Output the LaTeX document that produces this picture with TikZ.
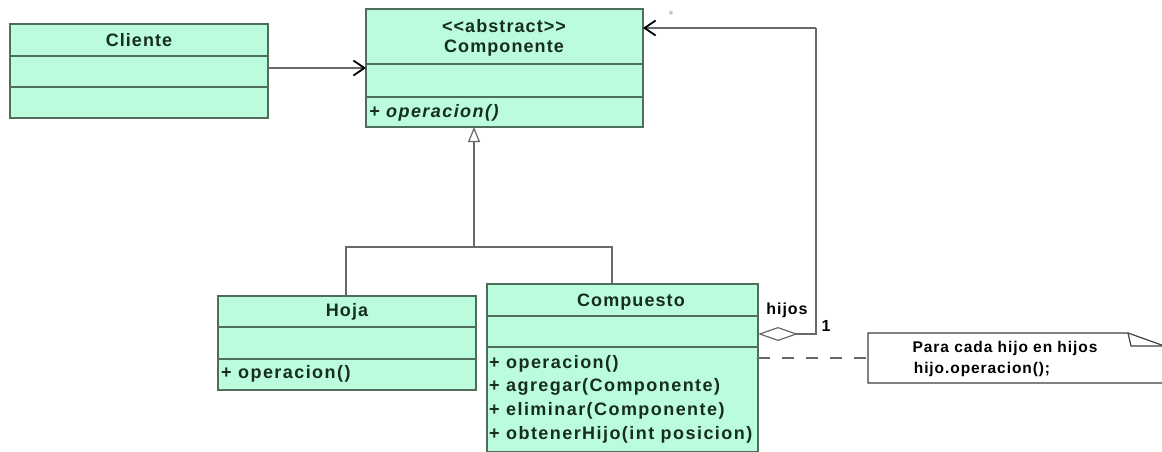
\documentclass[tikz,border=0pt]{standalone}
\usepackage{fontspec}
\newfontfamily\umlfont{Liberation Sans}[LetterSpace=6]
\newfontfamily\memberfont{Liberation Sans}[LetterSpace=8]
\usetikzlibrary{arrows.meta}
\definecolor{umlfill}{RGB}{187,252,220}
\definecolor{umlline}{RGB}{80,108,92}
\definecolor{umltext}{RGB}{22,45,32}
\definecolor{connc}{RGB}{105,105,105}
\tikzset{
  classbox/.style={draw=umlline, fill=umlfill, line width=1.3pt, inner sep=0pt, outer sep=0pt, rectangle, anchor=north west},
  divider/.style={draw=umlline, line width=1.2pt},
  cname/.style={text=umltext, font=\umlfont\fontsize{18}{20}\selectfont\bfseries, inner sep=0pt},
  member/.style={text=umltext, font=\memberfont\fontsize{18}{20}\selectfont\bfseries, inner sep=0pt, anchor=west},
  connline/.style={draw=connc, line width=1.3pt},
  barb/.style={-{Straight Barb[length=11pt,width=15pt,line width=1.8pt,color=black]}},
  lbl/.style={text=black, font=\umlfont\fontsize{16}{18}\selectfont\bfseries, inner sep=0pt},
  notetext/.style={text=black, font=\umlfont\fontsize{15.5}{18}\selectfont\bfseries, inner sep=0pt},
}
\begin{document}
\begin{tikzpicture}[x=1pt,y=-1pt]
\useasboundingbox (0,0) rectangle (1162,451);
\fill[white] (0,0) rectangle (1162,451);
\clip (0,0) rectangle (1162,451);

% classes
\node[classbox, minimum width=258pt, minimum height=94pt] (cliente) at (10,24) {};
\node[classbox, minimum width=277pt, minimum height=118pt] (componente) at (366,9) {};
\node[classbox, minimum width=258pt, minimum height=94pt] (hoja) at (218,296) {};
\node[classbox, minimum width=271pt, minimum height=168pt] (compuesto) at (487,284) {};

% dividers
\draw[divider] (cliente.west |- 0,56) -- (cliente.east |- 0,56);
\draw[divider] (cliente.west |- 0,87) -- (cliente.east |- 0,87);
\draw[divider] (componente.west |- 0,64) -- (componente.east |- 0,64);
\draw[divider] (componente.west |- 0,97) -- (componente.east |- 0,97);
\draw[divider] (hoja.west |- 0,327) -- (hoja.east |- 0,327);
\draw[divider] (hoja.west |- 0,359) -- (hoja.east |- 0,359);
\draw[divider] (compuesto.west |- 0,316) -- (compuesto.east |- 0,316);
\draw[divider] (compuesto.west |- 0,347) -- (compuesto.east |- 0,347);

% texts
\node[cname] (tcliente) at (139,40) {Cliente};
\node[cname] (tabs) at (504,26) {<<abstract>>};
\node[cname] (tcomp) at (504,48) {Componente};
\node[member, font=\memberfont\fontsize{18}{20}\selectfont\bfseries\itshape] (mcomp) at (369,113) {+ operacion()};
\node[cname] (thoja) at (347,312) {Hoja};
\node[member] (mhoja) at (221,374) {+ operacion()};
\node[cname] (tcompu) at (631,302) {Compuesto};
\node[member] (m1) at (489,364) {+ operacion()};
\node[member] (m2) at (489,387) {+ agregar(Componente)};
\node[member] (m3) at (489,411) {+ eliminar(Componente)};
\node[member] (m4) at (489,435) {+ obtenerHijo(int posicion)};

% association Cliente -> Componente
\coordinate (ay) at (0,68);
\draw[connline, barb] (cliente.east |- ay) -- (componente.west |- ay);

% generalization
\coordinate (j) at (474,247);
\coordinate (gx) at (612,0);
\coordinate (hx) at (346,0);
\draw[connline] (hoja.north -| hx) |- (j);
\draw[connline] (compuesto.north -| gx) |- (j);
\draw[connline, -{Triangle[open, length=15pt, width=12pt, fill=white, line width=1.2pt]}] (j) -- (j |- componente.south);

% aggregation Compuesto -> Componente
\coordinate (dy) at (0,334);
\coordinate (corner) at (816,28);
\draw[connline, {Diamond[open, length=40pt, width=14pt, fill=white, line width=1.2pt]}-] (compuesto.east |- dy) -| (corner);
\draw[connline, barb] (corner) -- (componente.east |- corner);
\node[text=connc, font=\fontsize{10}{10}\selectfont, inner sep=0pt] (star) at (671,15) {*};
\node[lbl] (lhijos) at (787,310) {hijos};
\node[lbl] (lone) at (826,326) {1};

% note
\coordinate (nw) at (868,333);
\node[rectangle, inner sep=0pt, outer sep=0pt, anchor=north west, minimum width=300pt, minimum height=50pt] (note) at (nw) {};
\draw[draw=black!75, line width=1.2pt, fill=white] (868,333) -- (1128,333) -- (1170,348) -- (1170,383) -- (868,383) -- cycle;
\draw[draw=black!75, line width=1.2pt] (1128,333) -- (1131,346) -- (1170,346);
\node[notetext] (n1) at (1005,348) {Para cada hijo en hijos};
\node[notetext] (n2) at (982,369) {hijo.operacion();};
\coordinate (ny) at (0,358);
\draw[connline, dash pattern=on 12pt off 12pt] (compuesto.east |- ny) -- (note.west |- ny);
\end{tikzpicture}
\end{document}
